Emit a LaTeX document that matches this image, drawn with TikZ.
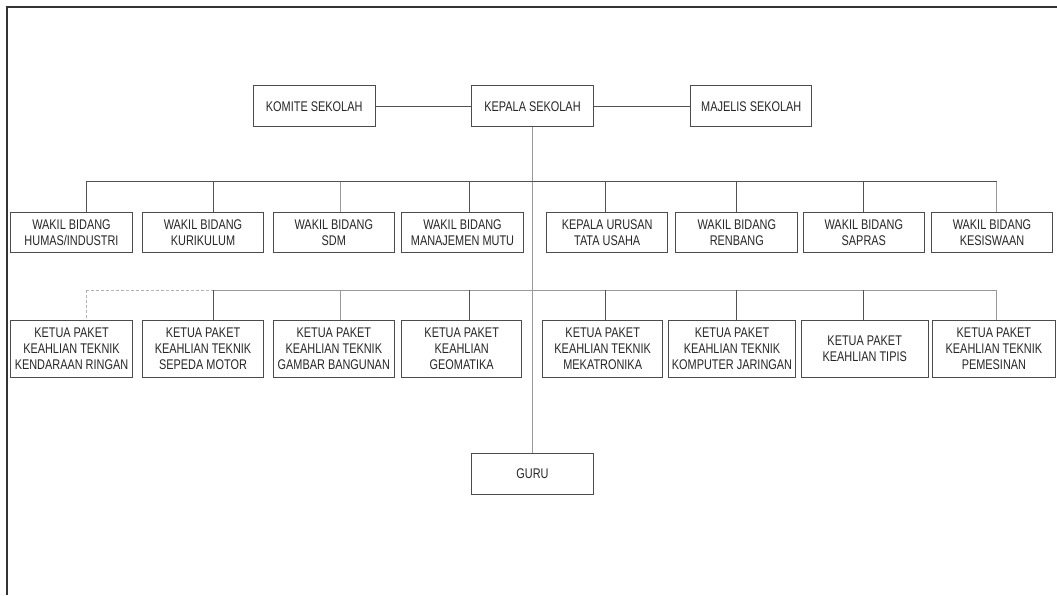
\documentclass[tikz,border=0pt]{standalone}
\usepackage{fontspec}
\setmainfont{Liberation Sans}[FakeStretch=0.78]
\begin{document}
\begin{tikzpicture}[x=1pt,y=-1pt,
  box/.style={draw=black!70,line width=1pt,rectangle,inner sep=0pt,align=center,
    font=\fontsize{14}{16}\selectfont,text=black!85},
  toprow/.style={box,minimum height=40.7pt},
  midrow/.style={box,minimum height=40.3pt},
  lowrow/.style={box,minimum height=57.3pt},
  ln/.style={draw=black!68,line width=1pt},
  lnl/.style={draw=black!40,line width=1pt},
  lnd/.style={draw=black!30,line width=1pt,densely dashed},
  frame/.style={draw=black!80,line width=1.5pt}]
\useasboundingbox (0,0) rectangle (1057,595);
\fill[white] (0,0) rectangle (1057,595);
% frame
\coordinate (fTR) at (1057,7);
\coordinate (fTL) at (7,7);
\coordinate (fBL) at (7,595);
\draw[frame] (fTR) -- (fTL) -- (fBL);

% top row
\node[toprow,minimum width=121.7pt] (komite) at (314.2,106.3) {KOMITE SEKOLAH};
\node[toprow,minimum width=121.6pt] (kepala) at (532.5,106.3) {KEPALA SEKOLAH};
\node[toprow,minimum width=121.3pt] (majelis) at (751.3,106.3) {MAJELIS SEKOLAH};
\node[toprow,minimum width=121.6pt] (guru) at (532.5,473.7) {GURU};

% second row
\node[midrow,minimum width=121.6pt] (h1) at (71.5,232.2) {WAKIL BIDANG\\HUMAS/INDUSTRI};
\node[midrow,minimum width=120.6pt] (h2) at (203,232.2) {WAKIL BIDANG\\KURIKULUM};
\node[midrow,minimum width=121pt] (h3) at (333.8,232.2) {WAKIL BIDANG\\SDM};
\node[midrow,minimum width=121.6pt] (h4) at (462.5,232.2) {WAKIL BIDANG\\MANAJEMEN MUTU};
\node[midrow,minimum width=121pt] (h5) at (607.2,232.2) {KEPALA URUSAN\\TATA USAHA};
\node[midrow,minimum width=121.7pt] (h6) at (736.8,232.2) {WAKIL BIDANG\\RENBANG};
\node[midrow,minimum width=121pt] (h7) at (863.8,232.2) {WAKIL BIDANG\\SAPRAS};
\node[midrow,minimum width=120.6pt] (h8) at (992,232.2) {WAKIL BIDANG\\KESISWAAN};

% third row
\node[lowrow,minimum width=121.6pt] (k1) at (71.5,348.7) {KETUA PAKET\\KEAHLIAN TEKNIK\\KENDARAAN RINGAN};
\node[lowrow,minimum width=120.6pt] (k2) at (203,348.7) {KETUA PAKET\\KEAHLIAN TEKNIK\\SEPEDA MOTOR};
\node[lowrow,minimum width=121pt] (k3) at (333.8,348.7) {KETUA PAKET\\KEAHLIAN TEKNIK\\GAMBAR BANGUNAN};
\node[lowrow,minimum width=120pt] (k4) at (461.7,348.7) {KETUA PAKET\\KEAHLIAN\\GEOMATIKA};
\node[lowrow,minimum width=120pt] (k5) at (602.7,348.7) {KETUA PAKET\\KEAHLIAN TEKNIK\\MEKATRONIKA};
\node[lowrow,minimum width=127.4pt] (k6) at (732,348.7) {KETUA PAKET\\KEAHLIAN TEKNIK\\KOMPUTER JARINGAN};
\node[lowrow,minimum width=127.3pt] (k7) at (864.7,348.7) {KETUA PAKET\\KEAHLIAN TIPIS};
\node[lowrow,minimum width=123.2pt] (k8) at (993.9,348.7) {KETUA PAKET\\KEAHLIAN TEKNIK\\PEMESINAN};

% top connectors
\draw[ln] (komite) -- (kepala);
\draw[ln] (kepala) -- (majelis);
\draw[lnl] (kepala.south) -- (guru.north);

% bus 1
\coordinate (a1) at (86,181.7);
\coordinate (a2) at (213.3,181.7);
\coordinate (a3) at (340.7,181.7);
\coordinate (a4) at (469.3,181.7);
\coordinate (a5) at (605.3,181.7);
\coordinate (a6) at (736.3,181.7);
\coordinate (a7) at (863.3,181.7);
\coordinate (a8) at (996.7,181.7);
\draw[ln] (a1) -- (a8);
\draw[ln] (a1) -- (a1 |- h1.north);
\draw[ln] (a2) -- (a2 |- h2.north);
\draw[lnl] (a3) -- (a3 |- h3.north);
\draw[ln] (a4) -- (a4 |- h4.north);
\draw[ln] (a5) -- (a5 |- h5.north);
\draw[ln] (a6) -- (a6 |- h6.north);
\draw[ln] (a7) -- (a7 |- h7.north);
\draw[lnl] (a8) -- (a8 |- h8.north);

% bus 2
\coordinate (c1) at (86,290);
\coordinate (c2) at (213.3,290);
\coordinate (c3) at (340.7,290);
\coordinate (c4) at (469.3,290);
\coordinate (c5) at (605.3,290);
\coordinate (c6) at (736.3,290);
\coordinate (c7) at (863.3,290);
\coordinate (c8) at (996.7,290);
\draw[lnd] (c1) -- (c2);
\draw[lnl] (c2) -- (c8);
\draw[lnd] (c1) -- (c1 |- k1.north);
\draw[ln] (c2) -- (c2 |- k2.north);
\draw[lnl] (c3) -- (c3 |- k3.north);
\draw[ln] (c4) -- (c4 |- k4.north);
\draw[ln] (c5) -- (c5 |- k5.north);
\draw[ln] (c6) -- (c6 |- k6.north);
\draw[ln] (c7) -- (c7 |- k7.north);
\draw[lnl] (c8) -- (c8 |- k8.north);
\end{tikzpicture}
\end{document}
